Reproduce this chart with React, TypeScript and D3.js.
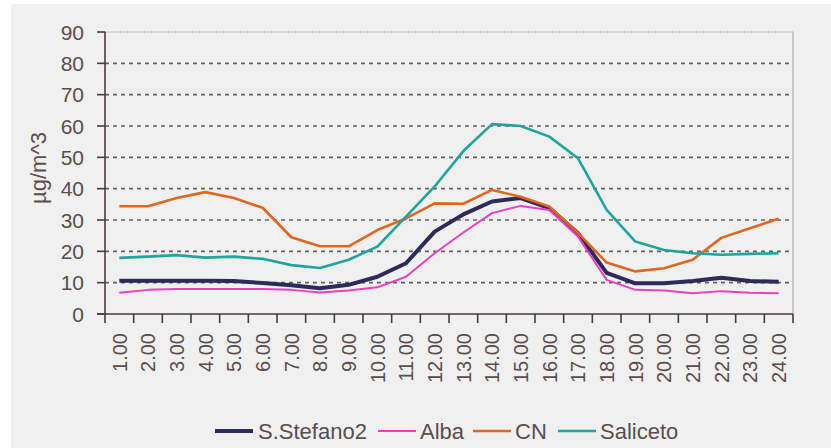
import { useEffect } from 'react'
import * as d3 from 'd3'

const HOURS = ['1.00', '2.00', '3.00', '4.00', '5.00', '6.00', '7.00', '8.00', '9.00', '10.00', '11.00', '12.00',
  '13.00', '14.00', '15.00', '16.00', '17.00', '18.00', '19.00', '20.00', '21.00', '22.00', '23.00', '24.00']

const S_STEFANO2 = [10.6, 10.6, 10.6, 10.6, 10.5, 9.9, 9.2, 8.2, 9.3, 11.9, 16.2, 26.3, 31.8, 35.9, 37, 33.8, 25.8, 13.1, 9.8, 9.8, 10.5, 11.6, 10.5, 10.3]
const ALBA = [6.8, 7.7, 8, 8, 8, 8, 7.7, 6.9, 7.5, 8.5, 11.9, 19.4, 26, 32.2, 34.5, 33.2, 24.7, 10.9, 7.7, 7.5, 6.6, 7.3, 6.8, 6.6]
const CN = [34.4, 34.4, 37, 38.9, 37, 33.9, 24.5, 21.6, 21.6, 26.8, 30.5, 35.3, 35.2, 39.6, 37.4, 34.3, 25.9, 16.4, 13.6, 14.6, 17.3, 24.3, 27.4, 30.4]
const SALICETO = [17.9, 18.3, 18.8, 18, 18.3, 17.6, 15.6, 14.7, 17.3, 21.5, 31.1, 40.7, 52, 60.6, 60, 56.6, 49.7, 33.2, 23.1, 20.4, 19.4, 18.9, 19.2, 19.4]

const SERIES = [
  { name: 'S.Stefano2', values: S_STEFANO2, color: '#2d2a5c', width: 4 },
  { name: 'Alba', values: ALBA, color: '#ec3fbf', width: 2 },
  { name: 'CN', values: CN, color: '#e1661f', width: 2.6 },
  { name: 'Saliceto', values: SALICETO, color: '#1ea69c', width: 2.6 },
]

const Y_TICKS = [0, 10, 20, 30, 40, 50, 60, 70, 80, 90]

const WIDTH = 831
const HEIGHT = 448
const PLOT = { left: 105, right: 793, top: 32, bottom: 314 }
const TEXT = '#5b4d4d'
const AXIS = '#4a3b3b'
const FONT = 'Arial, "Liberation Sans", sans-serif'

export default function App() {
  useEffect(() => {
    document.body.style.margin = '0'
  }, [])

  const x = d3.scaleBand<string>().domain(HOURS).range([PLOT.left, PLOT.right])
  const y = d3.scaleLinear().domain([0, 90]).range([PLOT.bottom, PLOT.top])
  const cx = (i: number) => (x(HOURS[i]) ?? 0) + x.bandwidth() / 2
  const line = d3
    .line<number>()
    .x((_, i) => cx(i))
    .y((v) => y(v))

  const boundaries = HOURS.map((h) => x(h) ?? 0).concat([PLOT.right])

  const legendItems = [
    { x: 215, textX: 258 },
    { x: 378, textX: 420 },
    { x: 473, textX: 515 },
    { x: 558, textX: 600 },
  ]

  return (
    <svg width={WIDTH} height={HEIGHT} style={{ display: 'block' }} fontFamily={FONT}>
      <rect x={0} y={0} width={WIDTH} height={HEIGHT} fill="#ffffff" />
      <rect x={11} y={4} width={WIDTH - 11} height={HEIGHT - 4} fill="#f0f0f0" />

      {/* plot border: top and right */}
      <line x1={PLOT.left} x2={PLOT.right} y1={y(90)} y2={y(90)} stroke="#b0a8a8" strokeWidth={1} strokeDasharray="2,1" />
      <line x1={PLOT.right} x2={PLOT.right} y1={y(90)} y2={PLOT.bottom} stroke="#a8a0a0" strokeWidth={1} />

      {Y_TICKS.filter((t) => t > 0 && t < 90).map((t) => (
        <line key={t} x1={PLOT.left} x2={PLOT.right} y1={y(t)} y2={y(t)} stroke="#6a6060" strokeWidth={1.6} strokeDasharray="4,4" />
      ))}

      {/* y axis */}
      <line x1={PLOT.left} x2={PLOT.left} y1={y(90)} y2={PLOT.bottom} stroke={AXIS} strokeWidth={1.6} />
      {Y_TICKS.map((t) => (
        <g key={t}>
          <line x1={PLOT.left - 8} x2={PLOT.left} y1={y(t)} y2={y(t)} stroke={AXIS} strokeWidth={1.6} />
          <text x={84} y={y(t)} dy="0.36em" textAnchor="end" fontSize={21} fill={TEXT}>{t}</text>
        </g>
      ))}
      <text transform={`translate(46 ${168}) rotate(-90)`} textAnchor="middle" fontSize={22} fill={TEXT}>µg/m^3</text>

      {/* x axis */}
      <line x1={PLOT.left - 8} x2={PLOT.right} y1={PLOT.bottom} y2={PLOT.bottom} stroke={AXIS} strokeWidth={1.6} />
      {boundaries.map((b, i) => (
        <line key={i} x1={b} x2={b} y1={PLOT.bottom} y2={PLOT.bottom + 9} stroke={AXIS} strokeWidth={1.6} />
      ))}
      {HOURS.map((h, i) => (
        <text key={h} transform={`translate(${cx(i)} ${333}) rotate(-90)`} dy="0.36em" textAnchor="end" fontSize={20} fill={TEXT}>{h}</text>
      ))}

      {SERIES.map((s) => (
        <path key={s.name} d={line(s.values) ?? undefined} fill="none" stroke={s.color} strokeWidth={s.width} strokeLinejoin="round" />
      ))}

      {SERIES.map((s, i) => (
        <g key={s.name}>
          <line x1={legendItems[i].x} x2={legendItems[i].x + 38} y1={431} y2={431} stroke={s.color} strokeWidth={s.width} />
          <text x={legendItems[i].textX} y={431} dy="0.36em" fontSize={22} fill={TEXT}>{s.name}</text>
        </g>
      ))}
    </svg>
  )
}
